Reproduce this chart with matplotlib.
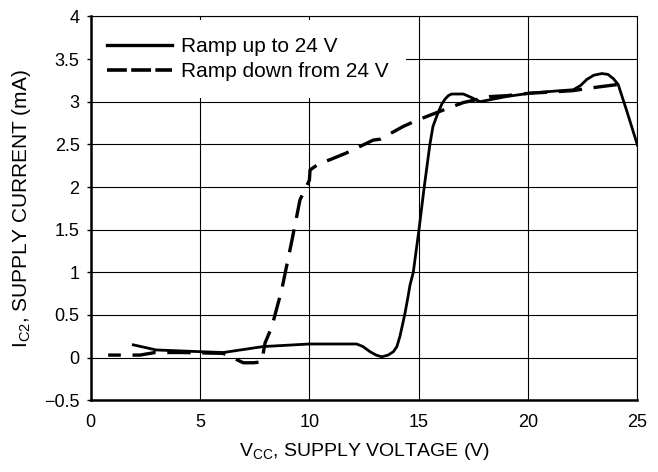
import matplotlib.pyplot as plt
from matplotlib.lines import Line2D

plt.rcParams['font.family'] = ['Liberation Sans', 'DejaVu Sans']
plt.rcParams['mathtext.fontset'] = 'custom'
plt.rcParams['mathtext.rm'] = 'Liberation Sans'

# ramp up to 24 V (solid)
up_v = [1.95, 3.0, 5.0, 6.06, 7.89, 10.0, 12.16, 12.45, 12.77, 13.05, 13.31,
        13.6, 13.84, 14.0, 14.14, 14.27, 14.37, 14.5, 14.6, 14.75, 15.01,
        15.25, 15.51, 15.65, 15.85, 16.05, 16.2, 16.35, 16.5, 17.04, 17.4,
        17.8, 19.0, 20.09, 21.0, 22.07, 22.4, 22.68, 23.0, 23.37, 23.65,
        23.9, 24.12, 24.5, 25.0]
up_i = [0.15, 0.09, 0.07, 0.06, 0.13, 0.16, 0.16, 0.13, 0.07, 0.03, 0.01,
        0.03, 0.07, 0.13, 0.25, 0.4, 0.52, 0.7, 0.85, 1.0, 1.5,
        2.0, 2.5, 2.71, 2.85, 2.97, 3.03, 3.07, 3.09, 3.09, 3.05,
        3.0, 3.06, 3.10, 3.12, 3.14, 3.19, 3.26, 3.31, 3.33, 3.32,
        3.27, 3.2, 2.9, 2.49]

# ramp down from 24 V (dashed)
down_v = [24.05, 22.83, 22.07, 20.85, 20.09, 19.0, 18.26, 17.04, 16.2, 14.9,
          14.29, 13.23, 12.92, 11.7, 10.94, 10.48, 10.03, 10.0, 9.72, 9.57,
          9.19, 8.73, 8.28, 7.97, 7.82, 7.44, 6.98, 6.06, 4.23, 2.94, 2.25, 0.8]
down_i = [3.20, 3.16, 3.13, 3.11, 3.10, 3.07, 3.06, 2.99, 2.91, 2.78,
          2.71, 2.56, 2.55, 2.40, 2.32, 2.28, 2.20, 2.08, 1.93, 1.85,
          1.36, 0.79, 0.36, 0.17, -0.05, -0.06, -0.06, 0.05, 0.06, 0.06, 0.03, 0.03]

x_ticks = [0, 5, 10, 15, 20, 25]
y_ticks = [-0.5, 0, 0.5, 1, 1.5, 2, 2.5, 3, 3.5, 4]
y_labels = ['\u22120.5', '0', '0.5', '1', '1.5', '2', '2.5', '3', '3.5', '4']
labels = ['Ramp up to 24 V', 'Ramp down from 24 V']

fig = plt.figure(figsize=(6.58, 4.72), dpi=100)
ax = fig.add_axes([0.1378, 0.1519, 0.831, 0.8134])

ax.plot(up_v, up_i, color='k', lw=2.0, solid_joinstyle='round')
ax.plot(down_v, down_i, color='k', lw=2.4, dashes=(7, 3.5))

ax.set_xlim(0, 25)
ax.set_ylim(-0.5, 4)
ax.set_xticks(x_ticks)
ax.set_yticks(y_ticks)
ax.set_yticklabels(y_labels)
ax.grid(True, color='k', lw=0.8)
ax.set_axisbelow(True)
ax.tick_params(axis='y', direction='out', length=3, width=1, labelsize=13, pad=5)
ax.tick_params(axis='x', length=0, labelsize=13, pad=10)

for s in ['left', 'bottom']:
    ax.spines[s].set_linewidth(1.8)
for s in ['top', 'right']:
    ax.spines[s].set_linewidth(0.8)

ax.set_xlabel('V$_{\\mathrm{CC}}$, SUPPLY VOLTAGE (V)', fontsize=14, labelpad=7)
ax.set_ylabel('I$_{\\mathrm{C2}}$, SUPPLY CURRENT (mA)', fontsize=15, labelpad=8)

handles = [Line2D([], [], color='k', lw=2.4),
           Line2D([], [], color='k', lw=2.6, dashes=(5.5, 1.2))]
leg = ax.legend(handles, labels, loc='upper left', bbox_to_anchor=(0.0, 0.99),
                fontsize=15, frameon=True, fancybox=False, edgecolor='none',
                framealpha=1, handlelength=3.08, handletextpad=0.47,
                labelspacing=0.29, borderpad=0.8, borderaxespad=0)
leg.set_zorder(2.2)

fig.savefig('out.png', dpi=100)
